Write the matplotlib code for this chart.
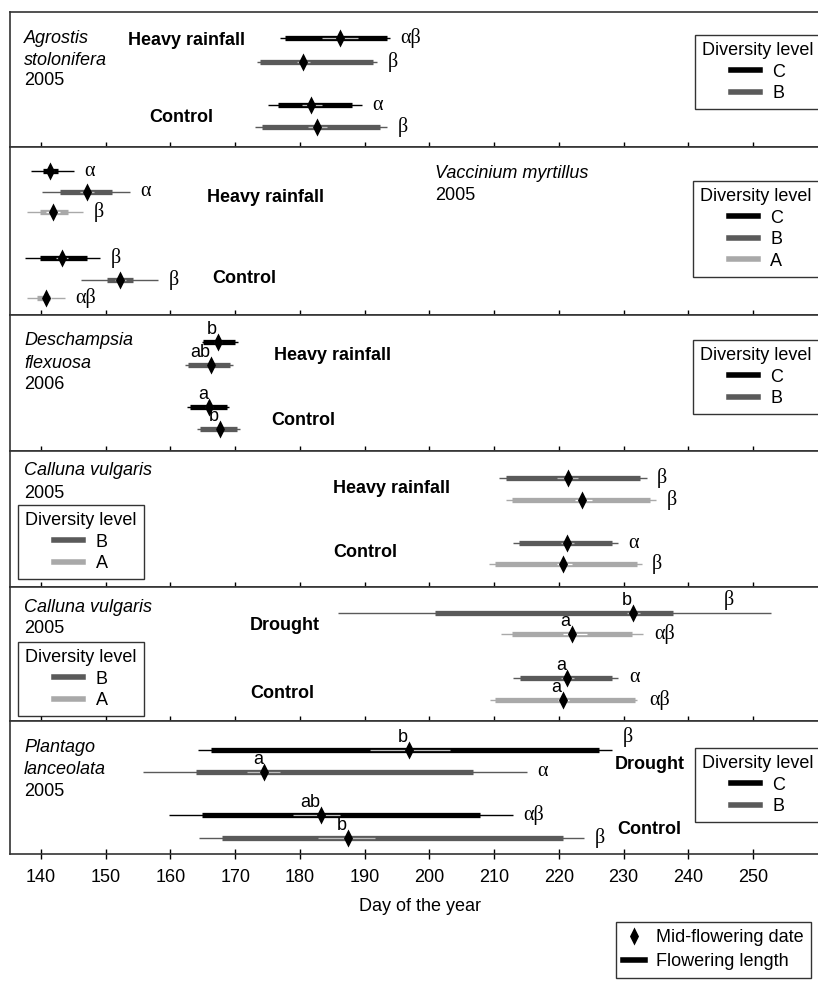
import numpy as np
import matplotlib
matplotlib.use("Agg")
import matplotlib.pyplot as plt
from matplotlib.lines import Line2D
from matplotlib.path import Path

plt.rcParams['font.family'] = ['Liberation Sans', 'DejaVu Sans']

# colours of the diversity levels
level_colors = {'C': '#000000', 'B': '#5a5a5a', 'A': '#a9a9a9'}

# ---- Agrostis stolonifera 2005 (heavy rainfall / control)
agrostis_level = ['C', 'B', 'C', 'B']
agrostis_range = [(176.9, 193.9), (173.4, 191.9), (175.1, 189.6), (173.1, 193.5)]
agrostis_flower = [(177.7, 193.5), (173.8, 191.3), (176.6, 188.0), (174.1, 192.4)]
agrostis_mid = [186.2, 180.5, 181.7, 182.6]
agrostis_se = [(183.4, 189.0), (179.6, 181.6), (180.3, 183.4), (181.2, 184.2)]
agrostis_sig = ['αβ', 'β', 'α', 'β']

# ---- Vaccinium myrtillus 2005
vaccinium_level = ['C', 'B', 'A', 'C', 'B', 'A']
vaccinium_range = [(138.5, 145.1), (140.2, 153.7), (137.8, 146.5),
                   (137.5, 149.1), (146.2, 158.1), (137.8, 143.7)]
vaccinium_flower = [(140.3, 142.6), (142.9, 150.9), (139.8, 144.2),
                    (139.8, 147.1), (150.2, 154.2), (139.4, 141.4)]
vaccinium_mid = [141.4, 147.1, 141.9, 143.2, 152.2, 140.8]
vaccinium_se = [(140.9, 142.0), (146.0, 148.2), (140.8, 143.0),
                (142.3, 144.1), (151.4, 153.1), (140.2, 141.5)]
vaccinium_sig = ['α', 'α', 'β', 'β', 'β', 'αβ']

# ---- Deschampsia flexuosa 2006
deschampsia_level = ['C', 'B', 'C', 'B']
deschampsia_range = [(164.9, 170.4), (162.2, 169.7), (162.6, 169.0), (164.1, 170.7)]
deschampsia_flower = [(165.0, 170.0), (162.7, 169.2), (163.0, 168.7), (164.6, 170.3)]
deschampsia_mid = [167.3, 166.3, 166.0, 167.7]
deschampsia_se = [(166.7, 167.9), (165.7, 166.9), (165.4, 166.6), (167.1, 168.3)]
deschampsia_letter = ['b', 'ab', 'a', 'b']

# ---- Calluna vulgaris 2005, heavy rainfall
calluna_hr_level = ['B', 'A', 'B', 'A']
calluna_hr_range = [(210.8, 233.6), (211.8, 235.0), (212.9, 229.1), (209.2, 232.8)]
calluna_hr_flower = [(211.8, 232.5), (212.8, 234.1), (213.8, 228.2), (210.1, 232.1)]
calluna_hr_mid = [221.4, 223.6, 221.3, 220.6]
calluna_hr_se = [(219.7, 223.0), (222.5, 225.1), (220.3, 222.3), (219.7, 222.0)]
calluna_hr_sig = ['β', 'β', 'α', 'β']

# ---- Calluna vulgaris 2005, drought
calluna_dr_level = ['B', 'A', 'B', 'A']
calluna_dr_range = [(185.9, 252.8), (211.1, 233.0), (212.9, 229.1), (209.4, 232.1)]
calluna_dr_flower = [(200.9, 237.6), (212.8, 231.3), (214.0, 228.2), (210.1, 231.8)]
calluna_dr_mid = [231.5, 222.0, 221.3, 220.6]
calluna_dr_se = [(230.5, 232.5), (220.6, 224.3), (220.3, 222.3), (219.8, 221.5)]
calluna_dr_letter = ['b', 'a', 'a', 'a']
calluna_dr_sig = ['β', 'αβ', 'α', 'αβ']
calluna_dr_sig_x = [245.4, 234.8, 230.9, 234.0]

# ---- Plantago lanceolata 2005, drought
plantago_level = ['C', 'B', 'C', 'B']
plantago_range = [(164.3, 228.2), (155.8, 215.1), (159.8, 212.9), (164.4, 223.9)]
plantago_flower = [(166.3, 226.2), (163.9, 206.7), (164.9, 207.8), (168.0, 220.6)]
plantago_mid = [196.9, 174.5, 183.3, 187.4]
plantago_se = [(190.8, 203.2), (171.8, 176.9), (178.9, 186.2), (182.8, 191.6)]
plantago_letter = ['b', 'a', 'ab', 'b']
plantago_sig = ['β', 'α', 'αβ', 'β']

xticks = [140, 150, 160, 170, 180, 190, 200, 210, 220, 230, 240, 250]

W, H = 818, 982
FS = 13
# narrow diamond for the mid-flowering date
diamond = Path([(0, 1), (0.5, 0), (0, -1), (-0.5, 0), (0, 1)],
               [Path.MOVETO, Path.LINETO, Path.LINETO, Path.LINETO, Path.CLOSEPOLY])

fig = plt.figure(figsize=(W / 100, H / 100), dpi=100)

# panel limits in pixels (top, bottom)
panels_px = [(12, 147), (147, 315), (315, 451), (451, 587), (587, 721), (721, 854)]
ax_left, ax_right = 10, 830
xmin = 140 + (ax_left - 41) / 6.473
xmax = 140 + (ax_right - 41) / 6.473

axes = []
for top, bot in panels_px:
    ax = fig.add_axes([ax_left / W, 1 - bot / H, (ax_right - ax_left) / W, (bot - top) / H])
    ax.set_xlim(xmin, xmax)
    ax.set_ylim(bot - top, 0)
    ax.set_yticks([])
    ax.set_xticks(xticks)
    ax.tick_params(axis='x', direction='inout', length=7, width=1, labelbottom=False)
    for s in ax.spines.values():
        s.set_linewidth(1.2)
        s.set_color('#333333')
    axes.append(ax)


def draw_rows(ax, ys, level, rng, flower, mid, se, sig=None, letter=None, sig_dy=None):
    for i, y in enumerate(ys):
        c = level_colors[level[i]]
        ax.plot(rng[i], [y, y], color=c, lw=1.0, solid_capstyle='butt', zorder=2)
        ax.plot(flower[i], [y, y], color=c, lw=3.8, solid_capstyle='butt', zorder=3)
        inner = 'white' if level[i] == 'A' else '#bdbdbd'
        ax.plot(se[i], [y, y], color=inner, lw=0.9, solid_capstyle='butt', zorder=4)
        ax.plot(mid[i], y, marker=diamond, color='black', ms=13, mew=0, zorder=5)
        if letter is not None:
            ax.text(mid[i] - 0.2, y - 4, letter[i], ha='right', va='bottom', fontsize=FS)
        if sig is not None:
            dy = 0 if sig_dy is None else sig_dy[i]
            ax.text(rng[i][1] + 1.6, y + dy, sig[i], ha='left', va='center',
                    fontsize=14.5, family='Liberation Serif')


def lines(ax, x, ys, txts, italic):
    for y, t, it in zip(ys, txts, italic):
        ax.text(x, y, t, ha='left', va='baseline', fontsize=FS,
                style='italic' if it else 'normal')


def treat(ax, x, y, txt):
    ax.text(x, y, txt, ha='left', va='baseline', fontsize=FS, weight='bold')


def level_legend(ax, levels, x_px, y_px, height):
    handles = [Line2D([0], [0], color=level_colors[l], lw=4) for l in levels]
    lg = ax.legend(handles, levels, title='Diversity level', loc='upper left',
                   bbox_to_anchor=((x_px - ax_left) / (ax_right - ax_left), 1 - y_px / height),
                   frameon=True, fancybox=False, edgecolor='black', fontsize=FS,
                   title_fontsize=FS, handlelength=1.6, handletextpad=0.7,
                   borderpad=0.4, labelspacing=0.25, borderaxespad=0)
    lg.get_frame().set_linewidth(1.0)
    lg._legend_box.align = 'center'


# panel 1
ax = axes[0]
lines(ax, 137.4, [31, 53, 73], ['Agrostis', 'stolonifera', '2005'], [True, True, False])
draw_rows(ax, [26, 50, 93, 115], agrostis_level, agrostis_range, agrostis_flower,
          agrostis_mid, agrostis_se, sig=agrostis_sig)
treat(ax, 153.4, 33, 'Heavy rainfall')
treat(ax, 156.7, 110, 'Control')
level_legend(ax, ['C', 'B'], 695, 23, 135)

# panel 2
ax = axes[1]
lines(ax, 200.9, [31, 53], ['Vaccinium myrtillus', '2005'], [True, False])
draw_rows(ax, [24, 45, 65, 111, 133, 151], vaccinium_level, vaccinium_range,
          vaccinium_flower, vaccinium_mid, vaccinium_se, sig=vaccinium_sig)
treat(ax, 165.6, 55, 'Heavy rainfall')
treat(ax, 166.4, 136, 'Control')
level_legend(ax, ['C', 'B', 'A'], 693, 34, 168)

# panel 3
ax = axes[2]
lines(ax, 137.4, [30, 53, 74], ['Deschampsia', 'flexuosa', '2006'], [True, True, False])
draw_rows(ax, [27, 50, 92, 114], deschampsia_level, deschampsia_range,
          deschampsia_flower, deschampsia_mid, deschampsia_se, letter=deschampsia_letter)
treat(ax, 176.0, 45, 'Heavy rainfall')
treat(ax, 175.5, 110, 'Control')
level_legend(ax, ['C', 'B'], 693, 25, 136)

# panel 4
ax = axes[3]
lines(ax, 137.4, [24, 47], ['Calluna vulgaris', '2005'], [True, False])
draw_rows(ax, [27, 49, 92, 113], calluna_hr_level, calluna_hr_range, calluna_hr_flower,
          calluna_hr_mid, calluna_hr_se, sig=calluna_hr_sig)
treat(ax, 185.1, 42, 'Heavy rainfall')
treat(ax, 185.1, 106, 'Control')
level_legend(ax, ['B', 'A'], 18, 54, 136)

# panel 5
ax = axes[4]
lines(ax, 137.4, [25, 46], ['Calluna vulgaris', '2005'], [True, False])
dr_rows = [26, 47, 91, 113]
draw_rows(ax, dr_rows, calluna_dr_level, calluna_dr_range, calluna_dr_flower,
          calluna_dr_mid, calluna_dr_se, letter=calluna_dr_letter)
for i, (y, s, x) in enumerate(zip(dr_rows, calluna_dr_sig, calluna_dr_sig_x)):
    dy = -13 if i == 0 else 0
    ax.text(x, y + dy, s, ha='left', va='center', fontsize=14.5, family='Liberation Serif')
treat(ax, 172.3, 43, 'Drought')
treat(ax, 172.3, 111, 'Control')
level_legend(ax, ['B', 'A'], 18, 55, 134)

# panel 6
ax = axes[5]
lines(ax, 137.4, [31, 53, 75], ['Plantago', 'lanceolata', '2005'], [True, True, False])
draw_rows(ax, [29, 51, 94, 117], plantago_level, plantago_range, plantago_flower,
          plantago_mid, plantago_se, letter=plantago_letter, sig=plantago_sig,
          sig_dy=[-13, 0, 0, 0])
treat(ax, 228.7, 48, 'Drought')
treat(ax, 229.0, 113, 'Control')
level_legend(ax, ['C', 'B'], 695, 27, 133)

ax.tick_params(axis='x', labelbottom=True, labelsize=FS, pad=7)
ax.set_xlabel('Day of the year', fontsize=FS, labelpad=9)

# general legend at the bottom
gh = [Line2D([0], [0], marker=diamond, color='black', lw=0, ms=13, mew=0),
      Line2D([0], [0], color='black', lw=4)]
glg = fig.legend(gh, ['Mid-flowering date', 'Flowering length'], loc='upper left',
                 bbox_to_anchor=(616 / W, 1 - 922 / H), frameon=True, fancybox=False,
                 edgecolor='black', fontsize=FS, handlelength=1.2, handletextpad=0.6,
                 borderpad=0.4, labelspacing=0.4, borderaxespad=0)
glg.get_frame().set_linewidth(1.0)

fig.savefig('out.png', dpi=100)
